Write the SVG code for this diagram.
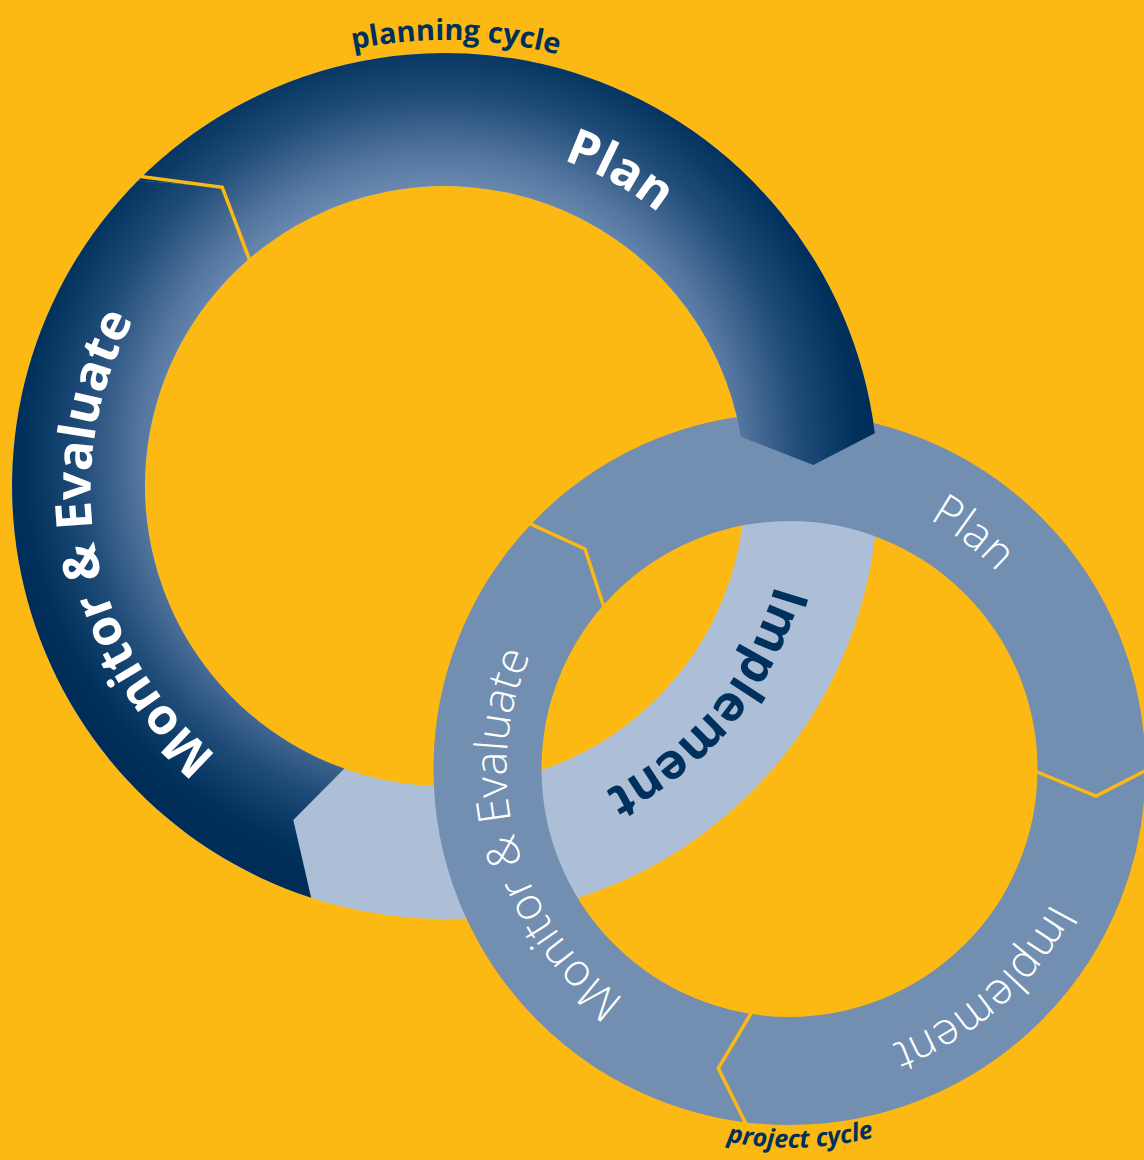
<svg xmlns="http://www.w3.org/2000/svg" width="1144" height="1160" viewBox="0 0 1144 1160">
<style>
.bigw{font-family:"Open Sans","Liberation Sans",sans-serif;font-weight:700;font-size:50px;fill:#ffffff}
.bign{font-family:"Open Sans","Liberation Sans",sans-serif;font-weight:700;font-size:50px;fill:#00305c}
.small{font-family:"Open Sans","Liberation Sans",sans-serif;font-weight:300;font-size:45px;fill:#ffffff}
.cap{font-family:"Open Sans","Liberation Sans",sans-serif;font-weight:700;fill:#00305c}
.sep{fill:none;stroke:#fdb913;stroke-width:3.5;stroke-linejoin:miter}
</style>
<defs>
<radialGradient id="dark" gradientUnits="userSpaceOnUse" cx="440" cy="455" r="440">
<stop offset="0.55" stop-color="#7a98bd"/>
<stop offset="0.68" stop-color="#5577a0"/>
<stop offset="0.82" stop-color="#1f4b78"/>
<stop offset="0.95" stop-color="#00305c"/>
<stop offset="1" stop-color="#002d58"/>
</radialGradient>
<path id="tpBigPlan" d="M 276.8 789.5 A 347 347 0 0 1 613.2 182.5 A 347 347 0 0 1 276.8 789.5"/>
<path id="tpBigME" d="M 793.7 419.5 A 355 355 0 0 1 96.3 552.5 A 355 355 0 0 1 793.7 419.5"/>
<path id="tpBigImp" d="M 177.3 265.3 A 347 347 0 0 1 712.7 706.7 A 347 347 0 0 1 177.3 265.3"/>
<path id="tpPlanning" d="M 434.1 931.9 A 446 446 0 0 1 455.9 40.1 A 446 446 0 0 1 434.1 931.9"/>
<path id="tpSmPlan" d="M 613.8 994.7 A 286 286 0 0 1 965.2 543.3 A 286 286 0 0 1 613.8 994.7"/>
<path id="tpSmImp" d="M 594.3 549.1 A 294 294 0 0 1 984.7 988.9 A 294 294 0 0 1 594.3 549.1"/>
<path id="tpSmME" d="M 1062.5 694.3 A 283 283 0 0 1 516.5 843.7 A 283 283 0 0 1 1062.5 694.3"/>
<path id="tpProject" d="M 778.3 390.2 A 379 379 0 0 0 800.7 1147.8 A 379 379 0 0 0 778.3 390.2"/>
</defs>
<rect x="0" y="0" width="1144" height="1160" fill="#fdb913"/>

<g id="planning-implement">
<circle cx="445" cy="486" r="366.5" fill="none" stroke="#adbfd6" stroke-width="133"/>
</g>
<g id="planning-monitor">
<path d="M 311.2 897.8 L 293.3 820 L 344.4 768.6 A 300 300 0 0 1 247.2 260.4 L 222.3 187.3 L 138.1 180.6 A 433 433 0 0 0 311.2 897.8 Z" fill="url(#dark)"/>
</g>
<g id="project-ring">
<circle cx="789.5" cy="769" r="302" fill="none" stroke="#728eb0" stroke-width="108"/>
</g>
<g id="planning-plan">
<path d="M 138.1 180.6 A 433 433 0 0 1 874.8 433.2 L 813.3 465 L 740.9 436.8 A 300 300 0 0 0 247.2 260.4 L 222.3 187.3 Z" fill="url(#dark)"/>
</g>
<g id="connectors">
<polyline class="sep" points="133.1,175.6 222.3,187.3 251.8,265.7"/>
<polyline class="sep" points="521.6,519.9 585,549 605.6,612.2"/>
<polyline class="sep" points="1032.3,770 1096,796 1150,768.3"/>
<polyline class="sep" points="753.6,1009.1 718.3,1068.3 746,1124"/>
</g>
<g id="labels">
<text class="bigw"><textPath href="#tpBigPlan" startOffset="50%" text-anchor="middle">Plan</textPath></text>
<text class="bigw"><textPath href="#tpBigME" startOffset="50%" text-anchor="middle">Monitor &amp; Evaluate</textPath></text>
<text class="bign"><textPath href="#tpBigImp" startOffset="50%" text-anchor="middle">Implement</textPath></text>
<text class="cap" font-size="29"><textPath href="#tpPlanning" startOffset="50%" text-anchor="middle">planning cycle</textPath></text>
<text class="small"><textPath href="#tpSmPlan" startOffset="50%" text-anchor="middle">Plan</textPath></text>
<text class="small"><textPath href="#tpSmImp" startOffset="50%" text-anchor="middle">Implement</textPath></text>
<text class="small"><textPath href="#tpSmME" startOffset="50%" text-anchor="middle">Monitor &amp; Evaluate</textPath></text>
<text class="cap" font-size="25" font-style="italic"><textPath href="#tpProject" startOffset="50%" text-anchor="middle">project cycle</textPath></text>
</g>
</svg>
